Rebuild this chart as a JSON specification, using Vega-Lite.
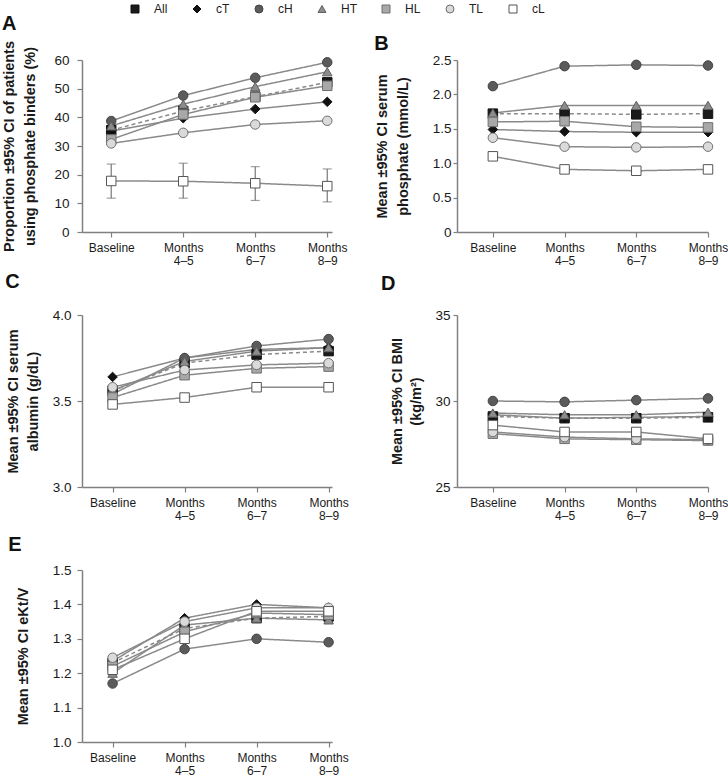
{
  "$schema": "https://vega.github.io/schema/vega-lite/v6.json",
  "background": "white",
  "padding": {"left": 1, "top": 3, "right": 0, "bottom": 0},
  "columns": 2,
  "spacing": {"row": 83, "column": 125},
  "bounds": "flush",
  "resolve": {"legend": {"shape": "independent", "fill": "independent", "stroke": "independent"}},
  "datasets": {
    "pA": [
      {"group": "All", "period": "Baseline", "value": 35.5},
      {"group": "All", "period": "Months 4–5", "value": 42.2},
      {"group": "All", "period": "Months 6–7", "value": 47.2},
      {"group": "All", "period": "Months 8–9", "value": 52.2},
      {"group": "cT", "period": "Baseline", "value": 35.2},
      {"group": "cT", "period": "Months 4–5", "value": 39.7},
      {"group": "cT", "period": "Months 6–7", "value": 42.9},
      {"group": "cT", "period": "Months 8–9", "value": 45.4},
      {"group": "cH", "period": "Baseline", "value": 38.7},
      {"group": "cH", "period": "Months 4–5", "value": 47.6},
      {"group": "cH", "period": "Months 6–7", "value": 53.8},
      {"group": "cH", "period": "Months 8–9", "value": 59.2},
      {"group": "HT", "period": "Baseline", "value": 37.0},
      {"group": "HT", "period": "Months 4–5", "value": 44.6},
      {"group": "HT", "period": "Months 6–7", "value": 50.7},
      {"group": "HT", "period": "Months 8–9", "value": 55.9},
      {"group": "HL", "period": "Baseline", "value": 32.3},
      {"group": "HL", "period": "Months 4–5", "value": 41.0},
      {"group": "HL", "period": "Months 6–7", "value": 47.0},
      {"group": "HL", "period": "Months 8–9", "value": 51.0},
      {"group": "TL", "period": "Baseline", "value": 30.9},
      {"group": "TL", "period": "Months 4–5", "value": 34.6},
      {"group": "TL", "period": "Months 6–7", "value": 37.5},
      {"group": "TL", "period": "Months 8–9", "value": 38.8},
      {"group": "cL", "period": "Baseline", "value": 17.8, "lo": 11.8, "hi": 23.7},
      {"group": "cL", "period": "Months 4–5", "value": 17.7, "lo": 11.8, "hi": 24.0},
      {"group": "cL", "period": "Months 6–7", "value": 17.0, "lo": 11.0, "hi": 22.8},
      {"group": "cL", "period": "Months 8–9", "value": 16.0, "lo": 10.5, "hi": 22.0}
    ],
    "pB": [
      {"group": "All", "period": "Baseline", "value": 1.72},
      {"group": "All", "period": "Months 4–5", "value": 1.72},
      {"group": "All", "period": "Months 6–7", "value": 1.71},
      {"group": "All", "period": "Months 8–9", "value": 1.72},
      {"group": "cT", "period": "Baseline", "value": 1.49},
      {"group": "cT", "period": "Months 4–5", "value": 1.46},
      {"group": "cT", "period": "Months 6–7", "value": 1.45},
      {"group": "cT", "period": "Months 8–9", "value": 1.45},
      {"group": "cH", "period": "Baseline", "value": 2.12},
      {"group": "cH", "period": "Months 4–5", "value": 2.41},
      {"group": "cH", "period": "Months 6–7", "value": 2.43},
      {"group": "cH", "period": "Months 8–9", "value": 2.42},
      {"group": "HT", "period": "Baseline", "value": 1.73},
      {"group": "HT", "period": "Months 4–5", "value": 1.84},
      {"group": "HT", "period": "Months 6–7", "value": 1.84},
      {"group": "HT", "period": "Months 8–9", "value": 1.84},
      {"group": "HL", "period": "Baseline", "value": 1.60},
      {"group": "HL", "period": "Months 4–5", "value": 1.61},
      {"group": "HL", "period": "Months 6–7", "value": 1.53},
      {"group": "HL", "period": "Months 8–9", "value": 1.52},
      {"group": "TL", "period": "Baseline", "value": 1.37},
      {"group": "TL", "period": "Months 4–5", "value": 1.24},
      {"group": "TL", "period": "Months 6–7", "value": 1.23},
      {"group": "TL", "period": "Months 8–9", "value": 1.24},
      {"group": "cL", "period": "Baseline", "value": 1.10},
      {"group": "cL", "period": "Months 4–5", "value": 0.91},
      {"group": "cL", "period": "Months 6–7", "value": 0.89},
      {"group": "cL", "period": "Months 8–9", "value": 0.91}
    ],
    "pC": [
      {"group": "All", "period": "Baseline", "value": 3.56},
      {"group": "All", "period": "Months 4–5", "value": 3.72},
      {"group": "All", "period": "Months 6–7", "value": 3.77},
      {"group": "All", "period": "Months 8–9", "value": 3.79},
      {"group": "cT", "period": "Baseline", "value": 3.64},
      {"group": "cT", "period": "Months 4–5", "value": 3.75},
      {"group": "cT", "period": "Months 6–7", "value": 3.80},
      {"group": "cT", "period": "Months 8–9", "value": 3.81},
      {"group": "cH", "period": "Baseline", "value": 3.54},
      {"group": "cH", "period": "Months 4–5", "value": 3.75},
      {"group": "cH", "period": "Months 6–7", "value": 3.82},
      {"group": "cH", "period": "Months 8–9", "value": 3.86},
      {"group": "HT", "period": "Baseline", "value": 3.56},
      {"group": "HT", "period": "Months 4–5", "value": 3.73},
      {"group": "HT", "period": "Months 6–7", "value": 3.79},
      {"group": "HT", "period": "Months 8–9", "value": 3.81},
      {"group": "HL", "period": "Baseline", "value": 3.52},
      {"group": "HL", "period": "Months 4–5", "value": 3.65},
      {"group": "HL", "period": "Months 6–7", "value": 3.69},
      {"group": "HL", "period": "Months 8–9", "value": 3.70},
      {"group": "TL", "period": "Baseline", "value": 3.58},
      {"group": "TL", "period": "Months 4–5", "value": 3.68},
      {"group": "TL", "period": "Months 6–7", "value": 3.71},
      {"group": "TL", "period": "Months 8–9", "value": 3.72},
      {"group": "cL", "period": "Baseline", "value": 3.48},
      {"group": "cL", "period": "Months 4–5", "value": 3.52},
      {"group": "cL", "period": "Months 6–7", "value": 3.58},
      {"group": "cL", "period": "Months 8–9", "value": 3.58}
    ],
    "pD": [
      {"group": "All", "period": "Baseline", "value": 29.1},
      {"group": "All", "period": "Months 4–5", "value": 29.0},
      {"group": "All", "period": "Months 6–7", "value": 29.0},
      {"group": "All", "period": "Months 8–9", "value": 29.05},
      {"group": "cT", "period": "Baseline", "value": 29.2},
      {"group": "cT", "period": "Months 4–5", "value": 29.0},
      {"group": "cT", "period": "Months 6–7", "value": 29.05},
      {"group": "cT", "period": "Months 8–9", "value": 29.1},
      {"group": "cH", "period": "Baseline", "value": 30.0},
      {"group": "cH", "period": "Months 4–5", "value": 29.95},
      {"group": "cH", "period": "Months 6–7", "value": 30.05},
      {"group": "cH", "period": "Months 8–9", "value": 30.15},
      {"group": "HT", "period": "Baseline", "value": 29.3},
      {"group": "HT", "period": "Months 4–5", "value": 29.2},
      {"group": "HT", "period": "Months 6–7", "value": 29.2},
      {"group": "HT", "period": "Months 8–9", "value": 29.35},
      {"group": "HL", "period": "Baseline", "value": 28.1},
      {"group": "HL", "period": "Months 4–5", "value": 27.8},
      {"group": "HL", "period": "Months 6–7", "value": 27.75},
      {"group": "HL", "period": "Months 8–9", "value": 27.7},
      {"group": "TL", "period": "Baseline", "value": 28.2},
      {"group": "TL", "period": "Months 4–5", "value": 27.9},
      {"group": "TL", "period": "Months 6–7", "value": 27.8},
      {"group": "TL", "period": "Months 8–9", "value": 27.75},
      {"group": "cL", "period": "Baseline", "value": 28.6},
      {"group": "cL", "period": "Months 4–5", "value": 28.2},
      {"group": "cL", "period": "Months 6–7", "value": 28.2},
      {"group": "cL", "period": "Months 8–9", "value": 27.8}
    ],
    "pE": [
      {"group": "All", "period": "Baseline", "value": 1.23},
      {"group": "All", "period": "Months 4–5", "value": 1.33},
      {"group": "All", "period": "Months 6–7", "value": 1.36},
      {"group": "All", "period": "Months 8–9", "value": 1.365},
      {"group": "cT", "period": "Baseline", "value": 1.235},
      {"group": "cT", "period": "Months 4–5", "value": 1.36},
      {"group": "cT", "period": "Months 6–7", "value": 1.40},
      {"group": "cT", "period": "Months 8–9", "value": 1.39},
      {"group": "cH", "period": "Baseline", "value": 1.17},
      {"group": "cH", "period": "Months 4–5", "value": 1.27},
      {"group": "cH", "period": "Months 6–7", "value": 1.30},
      {"group": "cH", "period": "Months 8–9", "value": 1.29},
      {"group": "HT", "period": "Baseline", "value": 1.20},
      {"group": "HT", "period": "Months 4–5", "value": 1.34},
      {"group": "HT", "period": "Months 6–7", "value": 1.36},
      {"group": "HT", "period": "Months 8–9", "value": 1.355},
      {"group": "HL", "period": "Baseline", "value": 1.22},
      {"group": "HL", "period": "Months 4–5", "value": 1.32},
      {"group": "HL", "period": "Months 6–7", "value": 1.375},
      {"group": "HL", "period": "Months 8–9", "value": 1.37},
      {"group": "TL", "period": "Baseline", "value": 1.245},
      {"group": "TL", "period": "Months 4–5", "value": 1.35},
      {"group": "TL", "period": "Months 6–7", "value": 1.39},
      {"group": "TL", "period": "Months 8–9", "value": 1.39},
      {"group": "cL", "period": "Baseline", "value": 1.21},
      {"group": "cL", "period": "Months 4–5", "value": 1.30},
      {"group": "cL", "period": "Months 6–7", "value": 1.38},
      {"group": "cL", "period": "Months 8–9", "value": 1.38}
    ]
  },
  "concat": [
    {
      "width": 250, "height": 172,
      "title": {"text": "A", "offset": 0, "dy": 31},
      "data": {"name": "pA"},
      "encoding": {
        "x": {"field": "period", "type": "ordinal", "scale": {"type": "point", "domain": ["Baseline", "Months 4–5", "Months 6–7", "Months 8–9"], "padding": 0.236, "align": 0.86}, "axis": {"title": null, "labelExpr": "split(datum.label, ' ')"}},
        "y": {"field": "value", "type": "quantitative", "scale": {"domain": [0, 60], "nice": false, "zero": false}, "axis": {"values": [0, 10, 20, 30, 40, 50, 60], "title": ["Proportion ±95% CI of patients", "using phosphate binders (%)"], "titleLineHeight": 21, "titlePadding": 16, "labelPadding": 8}}
      },
      "layer": [
        {"mark": {"type": "line", "strokeWidth": 1.5, "color": "#8a8a8a"}, "encoding": {"detail": {"field": "group"}, "strokeDash": {"field": "group", "type": "nominal", "scale": {"domain": ["All", "cT", "cH", "HT", "HL", "TL", "cL"], "range": [[4, 3], [1, 0], [1, 0], [1, 0], [1, 0], [1, 0], [1, 0]]}, "legend": null}}},
        {"transform": [{"filter": "datum.group === 'cL'"}], "mark": {"type": "rule", "color": "#777777", "strokeWidth": 1.2}, "encoding": {"y": {"field": "lo", "type": "quantitative"}, "y2": {"field": "hi"}}},
        {"transform": [{"filter": "datum.group === 'cL'"}], "mark": {"type": "tick", "color": "#777777", "thickness": 1.2, "size": 9}, "encoding": {"y": {"field": "lo", "type": "quantitative"}}},
        {"transform": [{"filter": "datum.group === 'cL'"}], "mark": {"type": "tick", "color": "#777777", "thickness": 1.2, "size": 9}, "encoding": {"y": {"field": "hi", "type": "quantitative"}}},
        {"mark": {"type": "point", "size": 90, "strokeWidth": 1, "opacity": 1},
         "encoding": {
          "shape": {"field": "group", "type": "nominal", "scale": {"domain": ["All", "cT", "cH", "HT", "HL", "TL", "cL"], "range": ["square", "diamond", "circle", "triangle-up", "square", "circle", "square"]},
            "legend": {"orient": "none", "legendX": 47, "legendY": -57, "direction": "horizontal", "title": null, "symbolSize": 64, "symbolStrokeWidth": 1, "labelFont": "'Liberation Sans Narrow', 'Liberation Sans', sans-serif", "labelFontSize": 12, "labelColor": "#222222", "labelOffset": 13, "columnPadding": 23, "padding": 0}},
          "fill": {"field": "group", "type": "nominal", "scale": {"domain": ["All", "cT", "cH", "HT", "HL", "TL", "cL"], "range": ["#1a1a1a", "#111111", "#5b5b5b", "#8c8c8c", "#a8a8a8", "#dadada", "#ffffff"]},
            "legend": {"orient": "none", "legendX": 47, "legendY": -57, "direction": "horizontal", "title": null, "symbolSize": 64, "symbolStrokeWidth": 1, "labelFont": "'Liberation Sans Narrow', 'Liberation Sans', sans-serif", "labelFontSize": 12, "labelColor": "#222222", "labelOffset": 13, "columnPadding": 23, "padding": 0}},
          "stroke": {"field": "group", "type": "nominal", "scale": {"domain": ["All", "cT", "cH", "HT", "HL", "TL", "cL"], "range": ["#111111", "#111111", "#444444", "#5e5e5e", "#6e6e6e", "#707070", "#555555"]},
            "legend": {"orient": "none", "legendX": 47, "legendY": -57, "direction": "horizontal", "title": null, "symbolSize": 64, "symbolStrokeWidth": 1, "labelFont": "'Liberation Sans Narrow', 'Liberation Sans', sans-serif", "labelFontSize": 12, "labelColor": "#222222", "labelOffset": 13, "columnPadding": 23, "padding": 0}}
         }}
      ]
    },
    {
      "width": 251, "height": 172,
      "title": {"text": "B", "offset": 3, "dy": 4},
      "data": {"name": "pB"},
      "encoding": {
        "x": {"field": "period", "type": "ordinal", "scale": {"type": "point", "domain": ["Baseline", "Months 4–5", "Months 6–7", "Months 8–9"], "padding": 0.25, "align": 1}, "axis": {"title": null, "labelExpr": "split(datum.label, ' ')"}},
        "y": {"field": "value", "type": "quantitative", "scale": {"domain": [0, 2.5], "nice": false, "zero": false}, "axis": {"values": [0, 0.5, 1, 1.5, 2, 2.5], "labelExpr": "datum.value === 0 ? '0' : format(datum.value, '.1f')", "title": ["Mean ±95% CI serum", "phosphate (mmol/L)"], "titleLineHeight": 21, "titlePadding": 22, "labelPadding": 2, "tickSize": 4}}
      },
      "layer": [
        {"mark": {"type": "line", "strokeWidth": 1.5, "color": "#8a8a8a"}, "encoding": {"detail": {"field": "group"}, "strokeDash": {"field": "group", "type": "nominal", "legend": null}}},
        {"mark": {"type": "point", "size": 90, "strokeWidth": 1, "opacity": 1},
         "encoding": {
          "shape": {"field": "group", "type": "nominal", "legend": null},
          "fill": {"field": "group", "type": "nominal", "legend": null},
          "stroke": {"field": "group", "type": "nominal", "legend": null}
         }}
      ]
    },
    {
      "width": 250, "height": 172,
      "title": {"text": "C", "offset": 16},
      "data": {"name": "pC"},
      "encoding": {
        "x": {"field": "period", "type": "ordinal", "scale": {"type": "point", "domain": ["Baseline", "Months 4–5", "Months 6–7", "Months 8–9"], "padding": 0.236, "align": 0.9}, "axis": {"title": null, "labelExpr": "split(datum.label, ' ')"}},
        "y": {"field": "value", "type": "quantitative", "scale": {"domain": [3, 4], "nice": false, "zero": false}, "axis": {"values": [3, 3.5, 4], "format": ".1f", "title": ["Mean ±95% CI serum", "albumin (g/dL)"], "titleLineHeight": 20, "titlePadding": 12, "labelPadding": 6}}
      },
      "layer": [
        {"mark": {"type": "line", "strokeWidth": 1.5, "color": "#8a8a8a"}, "encoding": {"detail": {"field": "group"}, "strokeDash": {"field": "group", "type": "nominal", "legend": null}}},
        {"mark": {"type": "point", "size": 90, "strokeWidth": 1, "opacity": 1},
         "encoding": {
          "shape": {"field": "group", "type": "nominal", "legend": null},
          "fill": {"field": "group", "type": "nominal", "legend": null},
          "stroke": {"field": "group", "type": "nominal", "legend": null}
         }}
      ]
    },
    {
      "width": 251, "height": 172,
      "title": {"text": "D", "offset": 14, "dx": -9},
      "data": {"name": "pD"},
      "encoding": {
        "x": {"field": "period", "type": "ordinal", "scale": {"type": "point", "domain": ["Baseline", "Months 4–5", "Months 6–7", "Months 8–9"], "padding": 0.25, "align": 1}, "axis": {"title": null, "labelExpr": "split(datum.label, ' ')"}},
        "y": {"field": "value", "type": "quantitative", "scale": {"domain": [25, 35], "nice": false, "zero": false}, "axis": {"values": [25, 30, 35], "title": ["Mean ±95% CI BMI", "(kg/m²)"], "titleLineHeight": 19, "titlePadding": 11, "labelPadding": 3, "tickSize": 4}}
      },
      "layer": [
        {"mark": {"type": "line", "strokeWidth": 1.5, "color": "#8a8a8a"}, "encoding": {"detail": {"field": "group"}, "strokeDash": {"field": "group", "type": "nominal", "legend": null}}},
        {"mark": {"type": "point", "size": 90, "strokeWidth": 1, "opacity": 1},
         "encoding": {
          "shape": {"field": "group", "type": "nominal", "legend": null},
          "fill": {"field": "group", "type": "nominal", "legend": null},
          "stroke": {"field": "group", "type": "nominal", "legend": null}
         }}
      ]
    },
    {
      "width": 250, "height": 172,
      "title": {"text": "E", "offset": 8, "dx": -7},
      "data": {"name": "pE"},
      "encoding": {
        "x": {"field": "period", "type": "ordinal", "scale": {"type": "point", "domain": ["Baseline", "Months 4–5", "Months 6–7", "Months 8–9"], "padding": 0.236, "align": 0.9}, "axis": {"title": null, "labelExpr": "split(datum.label, ' ')"}},
        "y": {"field": "value", "type": "quantitative", "scale": {"domain": [1, 1.5], "nice": false, "zero": false}, "axis": {"values": [1, 1.1, 1.2, 1.3, 1.4, 1.5], "format": ".1f", "title": "Mean ±95% CI eKt/V", "titlePadding": 22, "labelPadding": 6}}
      },
      "layer": [
        {"mark": {"type": "line", "strokeWidth": 1.5, "color": "#8a8a8a"}, "encoding": {"detail": {"field": "group"}, "strokeDash": {"field": "group", "type": "nominal", "legend": null}}},
        {"mark": {"type": "point", "size": 90, "strokeWidth": 1, "opacity": 1},
         "encoding": {
          "shape": {"field": "group", "type": "nominal", "legend": null},
          "fill": {"field": "group", "type": "nominal", "legend": null},
          "stroke": {"field": "group", "type": "nominal", "legend": null}
         }}
      ]
    }
  ],
  "config": {
    "view": {"stroke": null},
    "font": "Liberation Sans",
    "title": {"anchor": "start", "frame": "bounds", "fontSize": 20, "fontWeight": "bold", "font": "Liberation Sans", "color": "#111111"},
    "axis": {"grid": false, "domainColor": "#808080", "tickColor": "#808080", "domainWidth": 1.5, "tickWidth": 1.2, "tickSize": 5, "labelColor": "#1a1a1a", "titleColor": "#1a1a1a", "labelFont": "Liberation Sans", "titleFont": "Liberation Sans", "titleFontSize": 14.5, "titleFontWeight": "bold"},
    "axisX": {"labelAngle": 0, "labelFontSize": 12, "labelLineHeight": 13, "labelPadding": 5},
    "axisY": {"labelFontSize": 13.5}
  }
}
